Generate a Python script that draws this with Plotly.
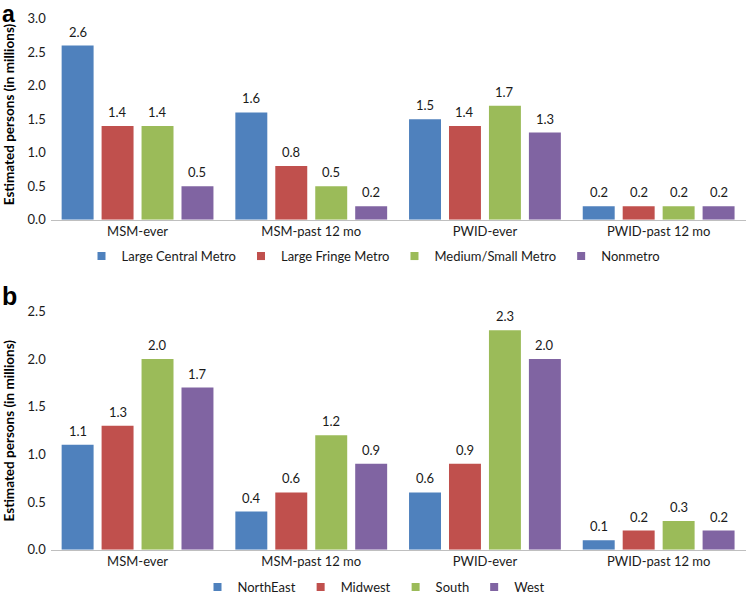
import plotly.graph_objects as go

categories = ["MSM-ever", "MSM-past 12 mo", "PWID-ever", "PWID-past 12 mo"]

# Panel a: urbanicity
urban_names = ["Large Central Metro", "Large Fringe Metro", "Medium/Small Metro", "Nonmetro"]
large_central = [2.6, 1.6, 1.5, 0.2]
large_fringe = [1.4, 0.8, 1.4, 0.2]
medium_small = [1.4, 0.5, 1.7, 0.2]
nonmetro = [0.5, 0.2, 1.3, 0.2]

# Panel b: region
region_names = ["NorthEast", "Midwest", "South", "West"]
northeast = [1.1, 0.4, 0.6, 0.1]
midwest = [1.3, 0.6, 0.9, 0.2]
south = [2.0, 1.2, 2.3, 0.3]
west = [1.7, 0.9, 2.0, 0.2]

colors = ["#4F81BD", "#C0504D", "#9BBB59", "#8064A2"]
FONT = "Lato, Liberation Sans, sans-serif"
TXT = "#1a1a1a"

W, H = 747, 602


def fy(py):
    """paper fraction for a target pixel row (from top)"""
    return 1 - py / H


X0, X1 = 50.7, 745.5
BARGAP = 0.08
cat_w = (X1 - X0) / len(categories)
slot = cat_w * (1 - BARGAP) / 4

fig = go.Figure()


def add_panel(series, names, xa, ya, legend):
    for i, (vals, name, col) in enumerate(zip(series, names, colors)):
        fig.add_trace(go.Bar(
            x=categories, y=vals, name=name, marker_color=col,
            marker_line_width=0, xaxis=xa, yaxis=ya, showlegend=False,
        ))
        fig.add_trace(go.Scatter(
            x=[None], y=[None], mode="markers", name=name,
            marker=dict(symbol="square", size=8, color=col),
            xaxis=xa, yaxis=ya, legend=legend, showlegend=True,
        ))
        for c, v in zip(categories, vals):
            fig.add_annotation(
                x=c, y=v, xref=xa, yref=ya, text=f"{v:.1f}", showarrow=False,
                xshift=(i - 1.5) * slot, yshift=14, yanchor="middle",
                font=dict(size=13, color=TXT, family=FONT),
            )


add_panel([large_central, large_fringe, medium_small, nonmetro], urban_names, "x", "y", "legend")
add_panel([northeast, midwest, south, west], region_names, "x2", "y2", "legend2")

xdom = [X0 / W, X1 / W]
axis_common = dict(
    showgrid=False, zeroline=False, ticks="", showline=True, linecolor="#BFBFBF",
    linewidth=1, tickfont=dict(size=13, color=TXT, family=FONT), automargin=False,
)
yaxis_common = dict(
    showgrid=False, zeroline=False, ticks="", showline=False, dtick=0.5,
    tickformat=".1f", tickfont=dict(size=13, color=TXT, family=FONT), automargin=False,
    ticklabelstandoff=4,
)

fig.update_layout(
    width=W, height=H,
    margin=dict(l=0, r=0, t=0, b=0),
    paper_bgcolor="white", plot_bgcolor="white",
    barmode="group", bargap=BARGAP, bargroupgap=0.2,
    font=dict(family=FONT, color=TXT),
    xaxis=dict(domain=xdom, anchor="y", **axis_common),
    yaxis=dict(domain=[fy(223), fy(19)], range=[0, 3.0], anchor="x", **yaxis_common),
    xaxis2=dict(domain=xdom, anchor="y2", **axis_common),
    yaxis2=dict(domain=[fy(558), fy(316)], range=[0, 2.5], anchor="x2", **yaxis_common),
    legend=dict(orientation="h", x=0.5, xanchor="center", y=fy(260), yanchor="middle",
                font=dict(size=13, color=TXT, family=FONT), bgcolor="rgba(0,0,0,0)"),
    legend2=dict(orientation="h", x=0.5, xanchor="center", y=fy(596), yanchor="middle",
                 font=dict(size=13, color=TXT, family=FONT), bgcolor="rgba(0,0,0,0)"),
    showlegend=True,
)

# Panel letters and y-axis titles
fig.add_annotation(text="<b>a</b>", x=1 / W, y=1.0, xref="paper", yref="paper",
                   xanchor="left", yanchor="top", showarrow=False, borderpad=0,
                   font=dict(size=23, family="Liberation Sans, Arial", color="black"))
fig.add_annotation(text="<b>b</b>", x=0 / W, y=fy(300.5), xref="paper", yref="paper",
                   xanchor="left", yanchor="middle", showarrow=False,
                   font=dict(size=25, family="Liberation Sans, Arial", color="black"))
for yc in [fy(116), fy(437)]:
    fig.add_annotation(text="<b>Estimated persons (in millions)</b>", x=9 / W, y=yc,
                       xref="paper", yref="paper", xanchor="center", yanchor="middle",
                       textangle=-90, showarrow=False,
                       font=dict(size=13.5, family=FONT, color="black"))

fig.write_html(
    "out.html",
    config={"displayModeBar": False},
    post_script=(
        "document.documentElement.style.margin='0';"
        "document.documentElement.style.overflow='hidden';"
        "document.body.style.margin='0';"
        "document.body.style.overflow='hidden';"
    ),
)
